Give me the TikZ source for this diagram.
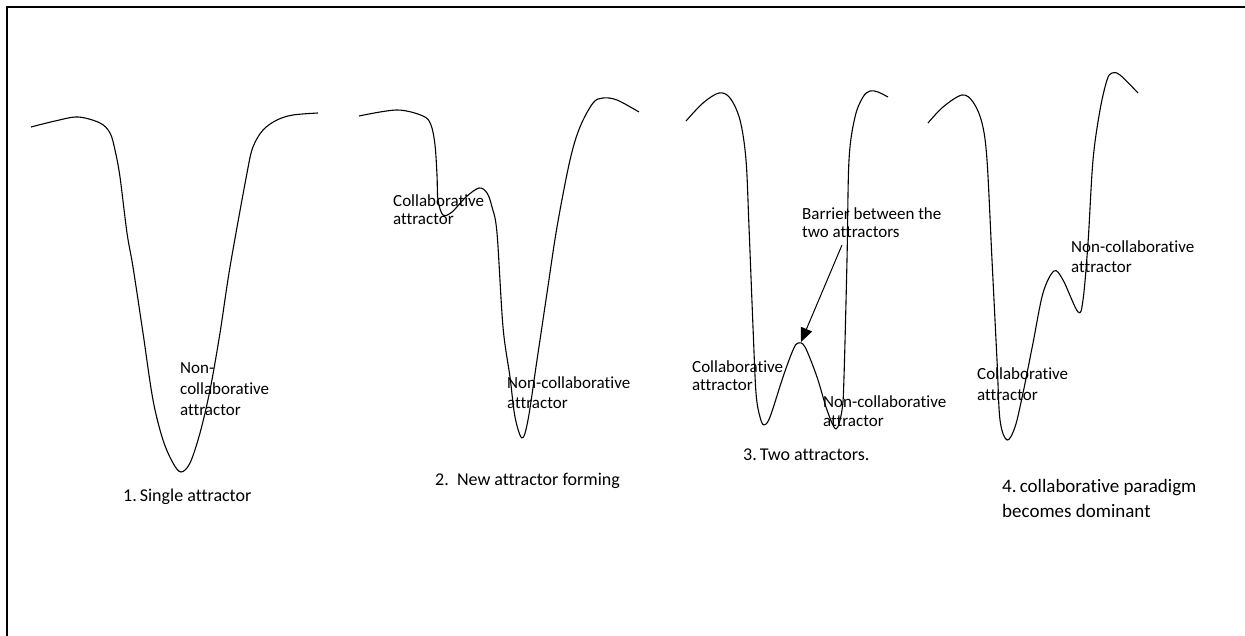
\documentclass[tikz,border=0pt]{standalone}
\usepackage{fontspec}
\setmainfont{Carlito}[Ligatures=NoCommon]
\usetikzlibrary{arrows.meta}
\begin{document}
\begin{tikzpicture}[x=1pt,y=-1pt,
  well/.style={line width=1.1pt, line join=round},
  lbl/.style={anchor=base west, inner sep=0pt, align=left, font=\fontsize{17}{#1}\selectfont},
  lbl/.default=20,
  caption/.style={anchor=base west, inner sep=0pt, align=left, font=\fontsize{18}{22}\selectfont},
  pointer/.style={line width=1pt, -{Triangle[length=14pt,width=12pt]}}]
\useasboundingbox (0,0) rectangle (1245,636);
% frame
\draw[line width=2pt] (7,640) -- (7,7) -- (1250,7);

% 1. single well
\draw[well] plot[smooth, tension=0.55] coordinates {
 (31,127) (55,121) (78,117) (100,123) (110,133) (115,150) (120,177) (127,233)
 (133,267) (143,333) (153,400) (163,440) (173,463) (181,472) (190,463) (200,433)
 (210,390) (220,333) (230,267) (247,173) (253,147) (263,130) (277,120) (293,115) (318,113)};

% 2. new attractor forming
\draw[well] plot[smooth, tension=0.55] coordinates {
 (359,116) (397,110) (423,116) (431,125) (435,145) (437,175) (438,200) (443,215)
 (452,212) (466,197) (479,188) (487,193) (492,207) (497,233) (503,327) (510,377)
 (515,417) (522,438) (528,420) (537,360) (547,293) (557,227) (570,160) (580,127)
 (593,103) (603,98) (617,100) (639,112)};

% 3. two attractors
\draw[well] plot[smooth, tension=0.55] coordinates {
 (686,121) (703,103) (719,93) (730,98) (740,120) (746,160) (749,227) (753,327)
 (756,393) (760,417) (764,425) (770,417) (783,377) (793,350) (798,343) (805,347)
 (817,377) (827,410) (836,429) (842,410) (844,377) (847,260) (849,160) (855,117)
 (863,97) (870,91) (878,92) (888,97)};

% 4. collaborative paradigm dominant
\draw[well] plot[smooth, tension=0.55] coordinates {
 (928,123) (943,107) (962,95) (973,102) (982,123) (987,160) (992,260) (997,360)
 (1000,420) (1007,440) (1015,427) (1023,393) (1033,343) (1043,293) (1054,271)
 (1063,280) (1078,312) (1083,300) (1088,243) (1093,160) (1100,110) (1107,80)
 (1112,73) (1120,75) (1138,93)};

% labels (placed by the baseline of their last line)
\node[lbl=21] (nc1) at (180,415) {Non-\\collaborative\\attractor};
\node[caption] (cap1) at (123,501) {1.\,Single attractor};

\node[lbl=18] (c2) at (393,225) {Collaborative\\attractor};
\node[lbl=20] (nc2) at (507,408) {Non-collaborative\\attractor};
\node[caption] (cap2) at (435,485) {2.\ \ New attractor forming};

\node[lbl=18] (bar) at (802,238) {Barrier between the\\two attractors};
\node[lbl=18] (c3) at (692,390) {Collaborative\\attractor};
\node[lbl=19] (nc3) at (823,426) {Non-collaborative\\attractor};
\node[caption] (cap3) at (743,460) {3.\,Two attractors.};

\node[lbl=21] (c4) at (977,400) {Collaborative\\attractor};
\node[lbl=20] (nc4) at (1071,273) {Non-collaborative\\attractor};
\node[anchor=base west, inner sep=0pt, align=left, font=\fontsize{19}{25}\selectfont] (cap4) at (1002,517) {4.\,collaborative paradigm\\becomes dominant};

% arrow to the barrier
\coordinate (barTail) at (842,245);
\coordinate (barTop) at (801,342);
\draw[pointer] (barTail) -- (barTop);
\end{tikzpicture}
\end{document}
